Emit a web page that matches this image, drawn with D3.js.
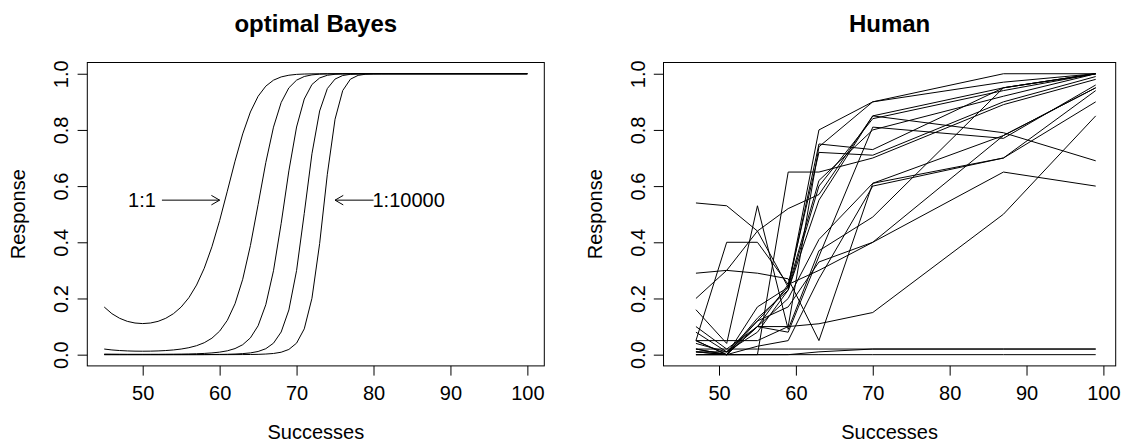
<!DOCTYPE html>
<html>
<head>
<meta charset="utf-8">
<script src="https://cdn.jsdelivr.net/npm/d3@7"></script>
<style>
  body { margin: 0; background: #fff; }
  svg text { font-family: "Liberation Sans", Arial, Helvetica, sans-serif; }
</style>
</head>
<body>
<div id="chart"></div>
<script>
// Panneau gauche : réponse bayésienne optimale (une courbe par rapport de cotes a priori)
const bayesSuccesses = [45, 46, 47, 48, 49, 50, 51, 52, 53, 54, 55, 56, 57, 58, 59, 60, 61, 62, 63,
    64, 65, 66, 67, 68, 69, 70, 71, 72, 73, 74, 75, 76, 77, 78, 79, 80, 81, 82, 100];
const bayesOdds1 = [0.1696, 0.1459, 0.1295, 0.1186, 0.1126, 0.1106, 0.1126, 0.1186, 0.1295, 0.1459, 0.1696,
    0.2027, 0.2478, 0.3076, 0.3842, 0.4773, 0.5820, 0.6888, 0.7858, 0.8639, 0.9198, 0.9558, 0.9771, 0.9887,
    0.9947, 0.9977, 0.9990, 0.9996, 0.9998, 0.9999, 1, 1, 1, 1, 1, 1, 1, 1, 1];
const bayesOdds10 = [0.0200, 0.0168, 0.0147, 0.0133, 0.0125, 0.0123, 0.0125, 0.0133, 0.0147, 0.0168, 0.0200,
    0.0248, 0.0319, 0.0425, 0.0587, 0.0837, 0.1222, 0.1812, 0.2684, 0.3883, 0.5341, 0.6836, 0.8099, 0.8977,
    0.9498, 0.9771, 0.9902, 0.9960, 0.9985, 0.9994, 0.9998, 1, 1, 1, 1, 1, 1, 1, 1];
const bayesOdds100 = [0.0020, 0.0017, 0.0015, 0.0013, 0.0013, 0.0012, 0.0013, 0.0013, 0.0015, 0.0017, 0.0020,
    0.0025, 0.0033, 0.0044, 0.0062, 0.0090, 0.0137, 0.0217, 0.0354, 0.0597, 0.1028, 0.1777, 0.2987, 0.4675,
    0.6542, 0.8103, 0.9100, 0.9617, 0.9850, 0.9945, 0.9981, 0.9994, 0.9998, 1, 1, 1, 1, 1, 1];
const bayesOdds1000 = [0.0002, 0.0002, 0.0001, 0.0001, 0.0001, 0.0001, 0.0001, 0.0001, 0.0001, 0.0002, 0.0002,
    0.0003, 0.0003, 0.0004, 0.0006, 0.0009, 0.0014, 0.0022, 0.0037, 0.0063, 0.0113, 0.0212, 0.0409, 0.0807,
    0.1591, 0.2993, 0.5028, 0.7151, 0.8675, 0.9472, 0.9810, 0.9937, 0.9980, 0.9994, 0.9998, 1, 1, 1, 1];
const bayesOdds10000 = [0, 0, 0, 0, 0, 0, 0, 0, 0, 0, 0,
    0, 0, 0, 0.0001, 0.0001, 0.0001, 0.0002, 0.0004, 0.0006, 0.0011, 0.0022, 0.0042, 0.0087,
    0.0186, 0.0410, 0.0918, 0.2006, 0.3956, 0.6421, 0.8381, 0.9402, 0.9806, 0.9942, 0.9984, 0.9996, 0.9999, 1, 1];
const bayesCurves = [bayesOdds1, bayesOdds10, bayesOdds100, bayesOdds1000, bayesOdds10000];
const arrowLabels = ["1:1", "1:10000"];

// Panneau droit : réponses des sujets humains
const humanSuccesses = [47, 51, 55, 59, 63, 70, 87, 99];
const human01 = [0.05, 0.05, 0.05, 0.10, 0.74, 0.90, 1.00, 1.00];
const human02 = [0.02, 0.00, 0.12, 0.24, 0.80, 0.90, 0.97, 1.00];
const human03 = [0.01, 0.00, 0.13, 0.23, 0.55, 0.85, 0.95, 1.00];
const human04 = [0.54, 0.53, 0.44, 0.24, 0.75, 0.73, 0.95, 1.00];
const human05 = [0.20, 0.30, 0.44, 0.52, 0.57, 0.85, 0.79, 0.69];
const human06 = [0.29, 0.30, 0.29, 0.27, 0.05, 0.61, 0.78, 0.95];
const human07 = [0.16, 0.04, 0.53, 0.09, 0.37, 0.49, 0.95, 1.00];
const human08 = [0.10, 0.02, 0.10, 0.20, 0.41, 0.61, 0.70, 0.94];
const human09 = [0.08, 0.01, 0.12, 0.17, 0.33, 0.40, 0.78, 0.95];
const human10 = [0.04, 0.01, 0.08, 0.23, 0.60, 0.84, 0.94, 1.00];
const human11 = [0.02, 0.00, 0.10, 0.25, 0.72, 0.71, 0.90, 0.99];
const human12 = [0.05, 0.40, 0.40, 0.25, 0.30, 0.40, 0.65, 0.60];
const human13 = [0.00, 0.00, 0.00, 0.65, 0.65, 0.70, 0.89, 0.98];
const human14 = [0.05, 0.00, 0.10, 0.10, 0.11, 0.15, 0.50, 0.85];
const human15 = [0.01, 0.00, 0.03, 0.05, 0.27, 0.60, 0.70, 0.90];
const human16 = [0.00, 0.00, 0.00, 0.00, 0.01, 0.02, 0.02, 0.02];
const human17 = [0.00, 0.00, 0.00, 0.00, 0.00, 0.00, 0.00, 0.00];
const human18 = [0.02, 0.02, 0.02, 0.02, 0.02, 0.02, 0.02, 0.02];
const human19 = [0.01, 0.01, 0.10, 0.08, 0.35, 0.81, 0.77, 0.96];
const human20 = [0.05, 0.00, 0.17, 0.24, 0.62, 0.80, 0.92, 1.00];
const humanCurves = [human01, human02, human03, human04, human05, human06, human07, human08, human09, human10,
    human11, human12, human13, human14, human15, human16, human17, human18, human19, human20];

const xTicks = [50, 60, 70, 80, 90, 100];
const yTicks = [0, 0.2, 0.4, 0.6, 0.8, 1.0];

const width = 1122, height = 441;
const plotTop = 62.5, plotBottom = 365.9;
const fontSize = 20;

const svg = d3.select("#chart")
    .append("svg")
    .attr("width", width)
    .attr("height", height)
    .style("background", "#fff");

function drawPanel(p) {
    const x = d3.scaleLinear().domain(p.xDomain).range([p.left, p.right]);
    const y = d3.scaleLinear().domain([-0.04, 1.04]).range([plotBottom, plotTop]);
    const g = svg.append("g");

    // Axe X
    const gx = g.append("g")
        .attr("transform", `translate(0,${plotBottom})`)
        .call(d3.axisBottom(x).tickValues(xTicks).tickSize(9.7).tickFormat(d3.format("d")))
        .attr("font-size", fontSize)
        .attr("font-family", null);
    gx.select(".domain").remove();
    gx.selectAll("line").attr("stroke", "#000");
    gx.selectAll("text").attr("y", 34).attr("dy", 0).attr("fill", "#000");

    // Axe Y (étiquettes verticales comme dans R)
    const gy = g.append("g")
        .attr("transform", `translate(${p.left},0)`)
        .call(d3.axisLeft(y).tickValues(yTicks).tickSize(9.7).tickFormat(d3.format(".1f")))
        .attr("font-size", fontSize)
        .attr("font-family", null);
    gy.select(".domain").remove();
    gy.selectAll("line").attr("stroke", "#000");
    gy.selectAll("text")
        .attr("transform", "rotate(-90)")
        .attr("x", 0)
        .attr("y", -19)
        .attr("dy", 0)
        .attr("text-anchor", "middle")
        .attr("fill", "#000");

    // Cadre
    g.append("rect")
        .attr("x", p.left)
        .attr("y", plotTop)
        .attr("width", p.right - p.left)
        .attr("height", plotBottom - plotTop)
        .attr("fill", "none")
        .attr("stroke", "#000");

    // Titres
    const cx = (p.left + p.right) / 2;
    g.append("text")
        .attr("x", cx)
        .attr("y", 31.7)
        .attr("text-anchor", "middle")
        .attr("font-size", 24)
        .attr("font-weight", "bold")
        .text(p.title);
    g.append("text")
        .attr("x", cx)
        .attr("y", 438.5)
        .attr("text-anchor", "middle")
        .attr("font-size", fontSize)
        .text("Successes");
    g.append("text")
        .attr("transform", `translate(${p.left - 62},${(plotTop + plotBottom) / 2}) rotate(-90)`)
        .attr("text-anchor", "middle")
        .attr("font-size", fontSize)
        .text("Response");

    return { g, x, y };
}

// Courbes
function drawCurves(panel, xs, curves) {
    const line = d3.line()
        .x((d, i) => panel.x(xs[i]))
        .y(d => panel.y(d));
    panel.g.selectAll("path.curve")
        .data(curves)
        .join("path")
        .attr("class", "curve")
        .attr("d", line)
        .attr("fill", "none")
        .attr("stroke", "#000")
        .attr("stroke-width", 1);
}

const leftPanel = drawPanel({ title: "optimal Bayes", xDomain: [42.8, 102.2], left: 87.3, right: 544.3 });
drawCurves(leftPanel, bayesSuccesses, bayesCurves);

const rightPanel = drawPanel({ title: "Human", xDomain: [42.78, 101.6], left: 663.5, right: 1115.7 });
drawCurves(rightPanel, humanSuccesses, humanCurves);

// Flèches d'annotation
function arrow(panel, x0, x1, yv) {
    const X0 = panel.x(x0), X1 = panel.x(x1), Y = panel.y(yv);
    const dir = Math.sign(X1 - X0), len = 9.5, ang = Math.PI / 6;
    const path = d3.path();
    path.moveTo(X0, Y); path.lineTo(X1, Y);
    path.moveTo(X1 - dir * len * Math.cos(ang), Y - len * Math.sin(ang));
    path.lineTo(X1, Y);
    path.lineTo(X1 - dir * len * Math.cos(ang), Y + len * Math.sin(ang));
    panel.g.append("path")
        .attr("d", path.toString())
        .attr("fill", "none")
        .attr("stroke", "#000");
}
arrow(leftPanel, 52.5, 60, 0.55);
arrow(leftPanel, 80, 75, 0.55);

leftPanel.g.append("text")
    .attr("x", leftPanel.x(52.5) - 6)
    .attr("y", leftPanel.y(0.55) + 7)
    .attr("text-anchor", "end")
    .attr("font-size", fontSize)
    .text(arrowLabels[0]);
leftPanel.g.append("text")
    .attr("x", leftPanel.x(80) - 1)
    .attr("y", leftPanel.y(0.55) + 7)
    .attr("text-anchor", "start")
    .attr("font-size", fontSize)
    .text(arrowLabels[1]);
</script>
</body>
</html>
